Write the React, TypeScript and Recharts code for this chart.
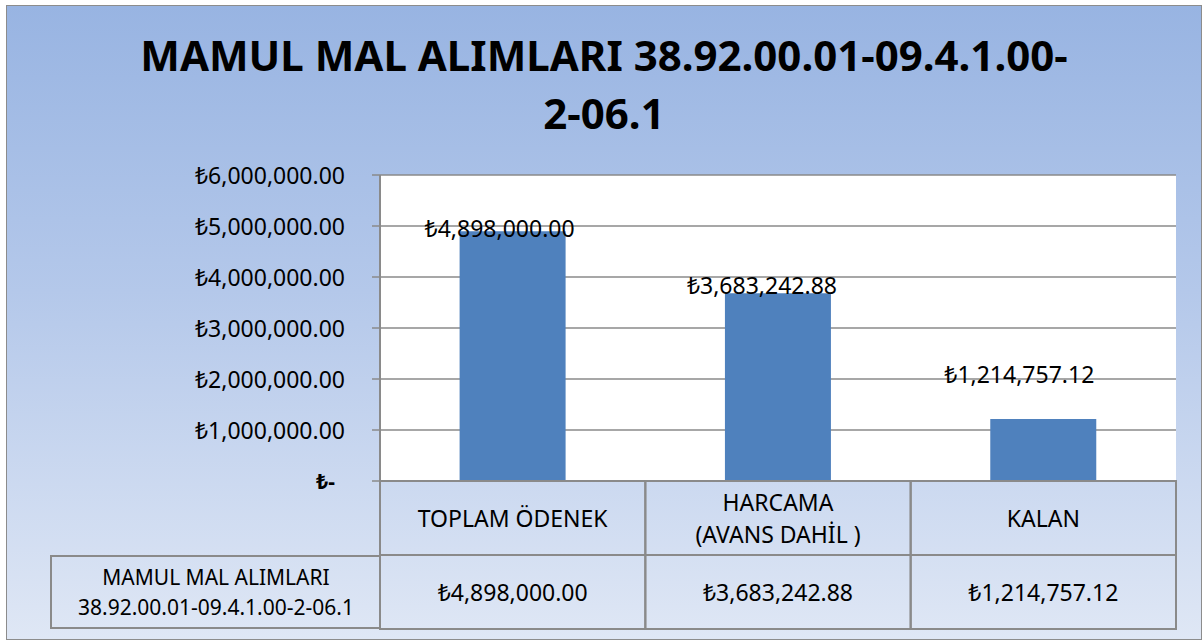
import React from "react";
import {
  BarChart,
  Bar,
  XAxis,
  YAxis,
  CartesianGrid,
  LabelList,
} from "recharts";

const TITLE_LINES = ["MAMUL MAL ALIMLARI 38.92.00.01-09.4.1.00-", "2-06.1"];
const SERIES_NAME = ["MAMUL MAL ALIMLARI", "38.92.00.01-09.4.1.00-2-06.1"];
const CATEGORIES = [["TOPLAM ÖDENEK"], ["HARCAMA", "(AVANS DAHİL )"], ["KALAN"]];
const VALUES = [4898000.0, 3683242.88, 1214757.12];
const Y_TICKS = [0, 1000000, 2000000, 3000000, 4000000, 5000000, 6000000];

// label nudges (Excel had them dragged around a bit)
const LABEL_DX = [-13, -16, -24];
const LABEL_DY = [-3, -8, -45];

const FONT = "'Noto Sans', 'Open Sans', sans-serif";
const FS = 23;
const GRID = "#8a8a8a";
const BAR = "#4f81bd";

const data = CATEGORIES.map((c, i) => ({ name: c.join(" "), lines: c, value: VALUES[i] }));

const money = (v: number) =>
  "₺" + v.toLocaleString("en-US", { minimumFractionDigits: 2, maximumFractionDigits: 2 });

const YTick = (props: any) => {
  const { x, y, payload } = props;
  const zero = payload.value === 0;
  return (
    <text
      x={zero ? x - 10 : x}
      y={y}
      textAnchor="end"
      dominantBaseline="central"
      fontFamily={FONT}
      fontSize={zero ? 21 : FS}
      fontWeight={zero ? 700 : 400}
      fill="#000"
    >
      {zero ? "₺-" : money(payload.value)}
    </text>
  );
};

const XCell = (props: any) => {
  const { x, y, payload, index } = props;
  const half = payload.offset ?? 132.7;
  const rowH = 74;
  const lines: string[] = data[index].lines;
  return (
    <g>
      <rect x={x - half} y={y} width={half * 2} height={rowH} fill="none" stroke={GRID} strokeWidth={2} />
      <rect x={x - half} y={y + rowH} width={half * 2} height={rowH} fill="none" stroke={GRID} strokeWidth={2} />
      {lines.map((l, i) => (
        <text
          key={i}
          x={x}
          y={y + rowH / 2 + (i - (lines.length - 1) / 2) * 32}
          textAnchor="middle"
          dominantBaseline="central"
          fontFamily={FONT}
          fontSize={FS}
          fill="#000"
        >
          {l}
        </text>
      ))}
      <text
        x={x}
        y={y + rowH * 1.5}
        textAnchor="middle"
        dominantBaseline="central"
        fontFamily={FONT}
        fontSize={FS}
        fill="#000"
      >
        {money(VALUES[index])}
      </text>
    </g>
  );
};

const ValueLabel = (props: any) => {
  const { x, y, width, index, value } = props;
  return (
    <text
      x={x + width / 2 + LABEL_DX[index]}
      y={y + LABEL_DY[index]}
      textAnchor="middle"
      dominantBaseline="central"
      fontFamily={FONT}
      fontSize={FS}
      fill="#000"
    >
      {money(value)}
    </text>
  );
};

export default function App() {
  return (
    <div
      style={{
        position: "absolute",
        left: 0,
        top: 0,
        width: 1202,
        height: 640,
        background: "#fff",
      }}
    >
      <div
        style={{
          position: "absolute",
          left: 6,
          top: 5,
          width: 1194,
          height: 633,
          border: "1px solid #8c8c8c",
          background: "linear-gradient(to bottom, #98b4e2 0%, #b4c8ea 45%, #dfe7f5 100%)",
        }}
      />
      <div
        style={{
          position: "absolute",
          left: 0,
          top: 26,
          width: 1208,
          textAlign: "center",
          fontFamily: FONT,
          fontWeight: 700,
          fontSize: 42,
          lineHeight: "58px",
          color: "#000",
        }}
      >
        {TITLE_LINES.map((t) => (
          <div key={t}>{t}</div>
        ))}
      </div>
      <div
        style={{
          position: "absolute",
          left: 50,
          top: 555,
          width: 330,
          height: 74,
          boxSizing: "border-box",
          border: `2px solid ${GRID}`,
          borderRight: "none",
          display: "flex",
          flexDirection: "column",
          justifyContent: "center",
          alignItems: "center",
          fontFamily: FONT,
          fontSize: 21,
          lineHeight: "30px",
          color: "#000",
          whiteSpace: "nowrap",
        }}
      >
        {SERIES_NAME.map((t) => (
          <div key={t}>{t}</div>
        ))}
      </div>
      <div style={{ position: "absolute", left: 0, top: 0 }}>
        <BarChart
          width={1202}
          height={640}
          data={data}
          margin={{ top: 175, right: 26, bottom: 11, left: 180 }}
          barCategoryGap="30%"
        >
          <CartesianGrid vertical={false} fill="#fff" stroke={GRID} strokeWidth={1.5} />
          <XAxis
            dataKey="name"
            height={148}
            tickSize={0}
            tickMargin={0}
            tickLine={false}
            axisLine={{ stroke: GRID, strokeWidth: 2 }}
            tick={<XCell />}
            interval={0}
          />
          <YAxis
            width={200}
            domain={[0, 6000000]}
            ticks={Y_TICKS}
            interval={0}
            tickSize={8}
            tickMargin={27}
            tickLine={{ stroke: GRID, strokeWidth: 1.5 }}
            axisLine={{ stroke: GRID, strokeWidth: 2 }}
            tick={<YTick />}
          />
          <Bar dataKey="value" fill={BAR} isAnimationActive={false}>
            <LabelList dataKey="value" content={<ValueLabel />} />
          </Bar>
        </BarChart>
      </div>
    </div>
  );
}
